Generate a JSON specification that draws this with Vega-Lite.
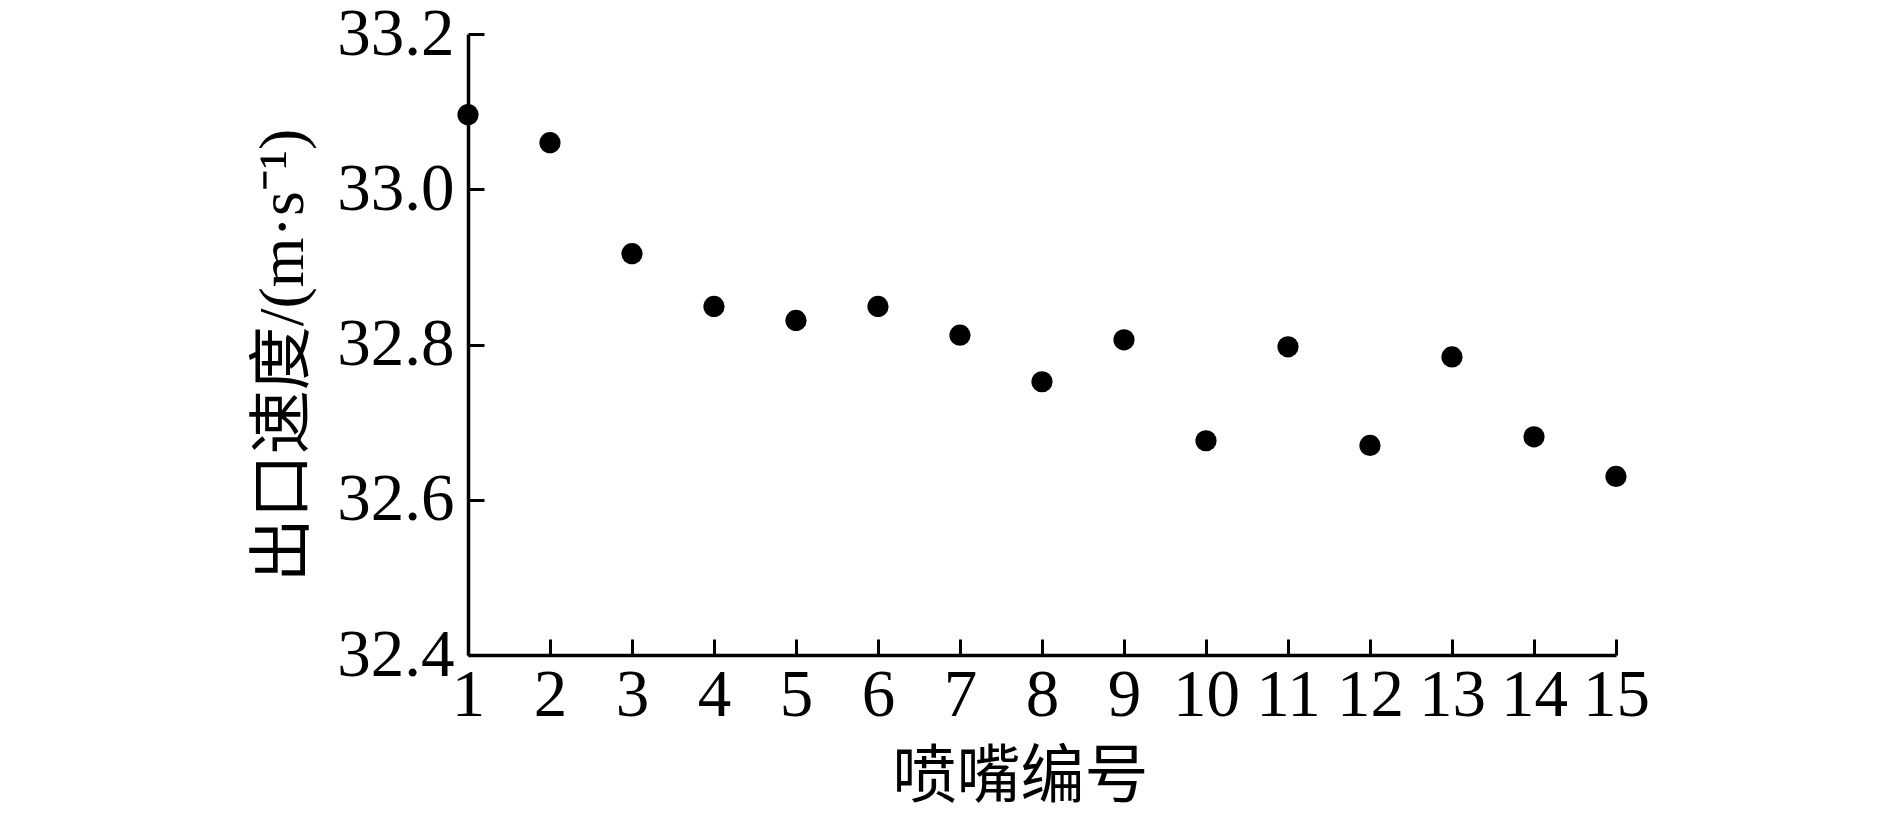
{
  "$schema": "https://vega.github.io/schema/vega-lite/v6.json",
  "autosize": {"type": "none"},
  "width": 1148,
  "height": 621,
  "padding": {"left": 468, "top": 34, "right": 274, "bottom": 161},
  "background": "white",
  "config": {
    "view": {"stroke": null},
    "font": "Liberation Serif, Noto Sans CJK SC",
    "axis": {
      "domainColor": "black",
      "domainWidth": 3.5,
      "tickColor": "black",
      "tickWidth": 3,
      "tickSize": -16,
      "grid": false,
      "labelColor": "black",
      "labelFont": "Liberation Serif",
      "labelFontSize": 67,
      "titleColor": "black",
      "titleFont": "Liberation Serif, Noto Sans CJK SC",
      "titleFontSize": 64,
      "titleFontWeight": "normal"
    }
  },
  "data": {
    "values": [
      {"id": 1, "v": 33.096},
      {"id": 2, "v": 33.060},
      {"id": 3, "v": 32.917},
      {"id": 4, "v": 32.849},
      {"id": 5, "v": 32.831},
      {"id": 6, "v": 32.849},
      {"id": 7, "v": 32.812},
      {"id": 8, "v": 32.752},
      {"id": 9, "v": 32.806},
      {"id": 10, "v": 32.676},
      {"id": 11, "v": 32.797},
      {"id": 12, "v": 32.670},
      {"id": 13, "v": 32.784},
      {"id": 14, "v": 32.681},
      {"id": 15, "v": 32.630}
    ]
  },
  "mark": {"type": "circle", "color": "black", "opacity": 1, "size": 450},
  "encoding": {
    "x": {
      "field": "id",
      "type": "quantitative",
      "scale": {"domain": [1, 15], "nice": false, "zero": false},
      "axis": {
        "title": "喷嘴编号",
        "values": [1,2,3,4,5,6,7,8,9,10,11,12,13,14,15],
        "format": "d",
        "labelPadding": 23,
        "labelFlush": false,
        "labelOverlap": false,
        "titleX": 552,
        "titleY": 122,
        "titleAlign": "center",
        "titleBaseline": "middle"
      }
    },
    "y": {
      "field": "v",
      "type": "quantitative",
      "scale": {"domain": [32.4, 33.2], "nice": false, "zero": false},
      "axis": {
        "title": "出口速度/(m·s⁻¹)",
        "values": [32.4, 32.6, 32.8, 33.0, 33.2],
        "format": ".1f",
        "labelPadding": 30,
        "labelFlush": false,
        "labelOverlap": false,
        "titleX": -185,
        "titleY": 321,
        "titleAlign": "center",
        "titleBaseline": "middle",
        "titleAngle": -90
      }
    }
  }
}
